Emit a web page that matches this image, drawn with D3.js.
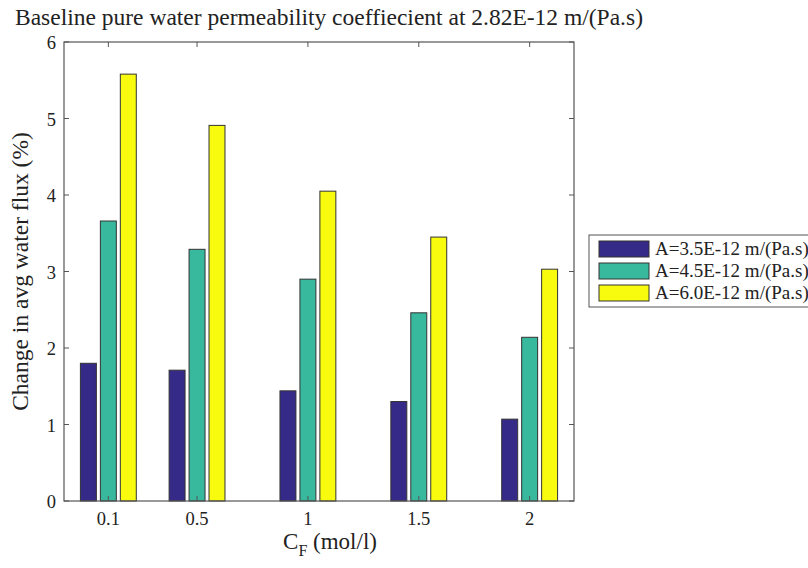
<!DOCTYPE html>
<html>
<head>
<meta charset="utf-8">
<script src="https://cdn.jsdelivr.net/npm/d3@7"></script>
<style>
  body { margin: 0; background: #fff; }
  svg text { font-family: "Liberation Serif", "Times New Roman", serif; fill: #222; }
</style>
</head>
<body>
<div id="chart"></div>
<script>
// data
var concentrations = [0.1, 0.5, 1, 1.5, 2];
var seriesNames = ["A=3.5E-12 m/(Pa.s)", "A=4.5E-12 m/(Pa.s)", "A=6.0E-12 m/(Pa.s)"];
var seriesA35 = [1.80, 1.71, 1.44, 1.30, 1.07];
var seriesA45 = [3.66, 3.29, 2.90, 2.46, 2.14];
var seriesA60 = [5.58, 4.91, 4.05, 3.45, 3.03];
var yTicks = [0, 1, 2, 3, 4, 5, 6];
var xTickLabels = ["0.1", "0.5", "1", "1.5", "2"];

var colors = ["#352a87", "#38b99e", "#f9fb0e"];
var allSeries = [seriesA35, seriesA45, seriesA60];

var W = 808, H = 568;
var plot = {left: 64, top: 42, right: 574, bottom: 501};

var svg = d3.select("#chart").append("svg")
    .attr("width", W)
    .attr("height", H);

var x = d3.scaleLinear().domain([-0.1, 2.2]).range([plot.left, plot.right]);
var y = d3.scaleLinear().domain([0, 6]).range([plot.bottom, plot.top]);

// bar geometry in data units (group spacing based on min gap 0.4)
var barOffset = 0.09, barWidth = 0.072;

allSeries.forEach(function(vals, s) {
    svg.append("g").selectAll("rect")
      .data(vals)
      .enter().append("rect")
        .attr("x", function(d, i) { return x(concentrations[i] + (s - 1) * barOffset - barWidth / 2); })
        .attr("width", x(barWidth) - x(0))
        .attr("y", function(d) { return y(d); })
        .attr("height", function(d) { return y(0) - y(d); })
        .attr("fill", colors[s])
        .attr("stroke", "#333")
        .attr("stroke-width", 1);
});

// axes box
var axisColor = "#555";
svg.append("rect")
    .attr("x", plot.left).attr("y", plot.top)
    .attr("width", plot.right - plot.left).attr("height", plot.bottom - plot.top)
    .attr("fill", "none").attr("stroke", axisColor).attr("stroke-width", 1.2);

// ticks inside, on all four sides (matlab style)
var tl = 5;
concentrations.forEach(function(c) {
    svg.append("line").attr("x1", x(c)).attr("x2", x(c))
        .attr("y1", plot.bottom).attr("y2", plot.bottom - tl).attr("stroke", axisColor);
    svg.append("line").attr("x1", x(c)).attr("x2", x(c))
        .attr("y1", plot.top).attr("y2", plot.top + tl).attr("stroke", axisColor);
});
yTicks.forEach(function(t) {
    svg.append("line").attr("x1", plot.left).attr("x2", plot.left + tl)
        .attr("y1", y(t)).attr("y2", y(t)).attr("stroke", axisColor);
    svg.append("line").attr("x1", plot.right).attr("x2", plot.right - tl)
        .attr("y1", y(t)).attr("y2", y(t)).attr("stroke", axisColor);
});

// tick labels
svg.append("g").selectAll("text")
  .data(yTicks)
  .enter().append("text")
    .attr("x", plot.left - 8)
    .attr("y", function(d) { return y(d) + 7; })
    .attr("text-anchor", "end")
    .style("font-size", "18.5px")
    .text(function(d) { return d; });

svg.append("g").selectAll("text")
  .data(concentrations)
  .enter().append("text")
    .attr("x", function(d) { return x(d); })
    .attr("y", plot.bottom + 24)
    .attr("text-anchor", "middle")
    .style("font-size", "18.5px")
    .text(function(d, i) { return xTickLabels[i]; });

// title
svg.append("text")
    .attr("x", 15).attr("y", 25)
    .style("font-size", "23.5px")
    .text("Baseline pure water permeability coeffiecient at 2.82E-12 m/(Pa.s)");

// axis labels
var xl = svg.append("text")
    .attr("x", 330).attr("y", 549)
    .attr("text-anchor", "middle")
    .style("font-size", "23px");
xl.append("tspan").text("C");
xl.append("tspan").attr("dy", 7).style("font-size", "16px").text("F");
xl.append("tspan").attr("dy", -7).text(" (mol/l)");

svg.append("text")
    .attr("transform", "translate(28," + ((plot.top + plot.bottom) / 2) + ") rotate(-90)")
    .attr("text-anchor", "middle")
    .style("font-size", "23.5px")
    .text("Change in avg water flux (%)");

// legend
var lg = svg.append("g").attr("transform", "translate(589,235)");
lg.append("rect")
    .attr("width", 230).attr("height", 72)
    .attr("fill", "#fff").attr("stroke", axisColor).attr("stroke-width", 1);
seriesNames.forEach(function(name, i) {
    lg.append("rect")
        .attr("x", 10).attr("y", 6 + i * 22)
        .attr("width", 50).attr("height", 16)
        .attr("fill", colors[i]).attr("stroke", "#333");
    lg.append("text")
        .attr("x", 66).attr("y", 20 + i * 22)
        .style("font-size", "19px")
        .text(name);
});
</script>
</body>
</html>
